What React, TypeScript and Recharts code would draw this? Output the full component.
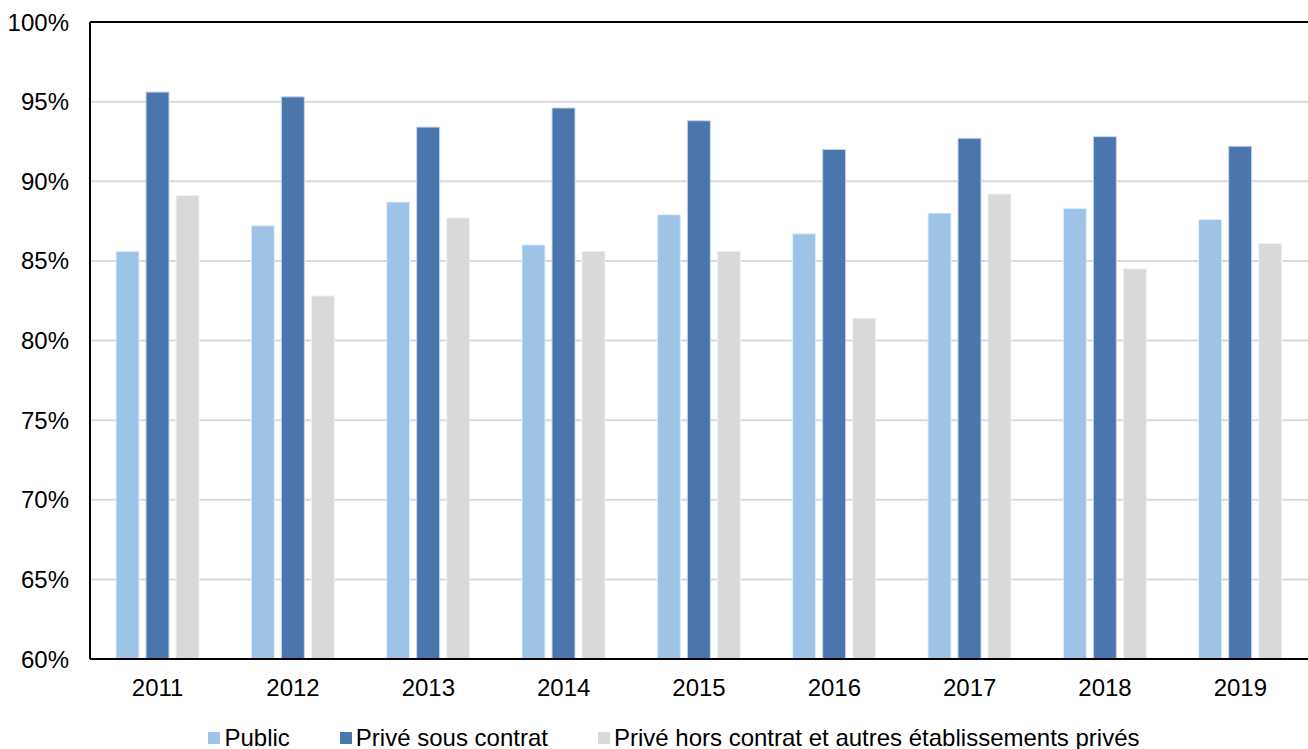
import React from 'react';
import { BarChart, Bar, XAxis, YAxis, CartesianGrid, ReferenceLine, Legend } from 'recharts';

const years = ['2011', '2012', '2013', '2014', '2015', '2016', '2017', '2018', '2019'];
const publicRate = [85.6, 87.2, 88.7, 86.0, 87.9, 86.7, 88.0, 88.3, 87.6];
const priveSousContrat = [95.6, 95.3, 93.4, 94.6, 93.8, 92.0, 92.7, 92.8, 92.2];
const priveHorsContrat = [89.1, 82.8, 87.7, 85.6, 85.6, 81.4, 89.2, 84.5, 86.1];
const yTicks = [60, 65, 70, 75, 80, 85, 90, 95, 100];

const data = years.map((year, i) => ({
  year,
  public: publicRate[i],
  sousContrat: priveSousContrat[i],
  horsContrat: priveHorsContrat[i],
}));

const font = 'Liberation Sans, Arial, sans-serif';

const renderLegend = () => {
  const items = [
    { label: 'Public', color: '#9dc3e6' },
    { label: 'Privé sous contrat', color: '#4a76ad' },
    { label: 'Privé hors contrat et autres établissements privés', color: '#d9d9d9' },
  ];
  return (
    <div style={{ display: 'flex', justifyContent: 'center', fontFamily: font, fontSize: 24, lineHeight: '26px', color: '#000', paddingLeft: 40 }}>
      {items.map((it, i) => (
        <div key={it.label} style={{ display: 'flex', alignItems: 'center', marginRight: i < 2 ? 50 : 0 }}>
          <span style={{ display: 'inline-block', width: 12, height: 12, background: it.color, marginRight: 4 }} />
          <span>{it.label}</span>
        </div>
      ))}
    </div>
  );
};

export default function App() {
  return (
    <div style={{ position: 'absolute', left: 0, top: 0, background: '#fff' }}>
      <BarChart
        width={1308}
        height={749}
        data={data}
        margin={{ top: 22, right: 0, bottom: 2, left: 0 }}
        barGap={7}
        barSize={23}
      >
        <CartesianGrid vertical={false} stroke="#d9d9d9" strokeWidth={2} />
        <XAxis
          dataKey="year"
          axisLine={{ stroke: '#000', strokeWidth: 2 }}
          tickLine={false}
          tick={{ fill: '#000', fontSize: 24, fontFamily: font }}
          tickMargin={14}
          height={62}
        />
        <YAxis
          domain={[60, 100]}
          ticks={yTicks}
          width={90}
          axisLine={{ stroke: '#000', strokeWidth: 2 }}
          tickLine={false}
          tickFormatter={(v: number) => `${v}%`}
          tick={{ fill: '#000', fontSize: 24, fontFamily: font }}
          tickMargin={15}
        />
        <ReferenceLine y={100} stroke="#000" strokeWidth={2} />
        <Legend verticalAlign="bottom" content={renderLegend} wrapperStyle={{ bottom: -2 }} />
        <Bar dataKey="public" name="Public" fill="#9dc3e6" stroke="#e3eef9" strokeWidth={1} isAnimationActive={false} />
        <Bar dataKey="sousContrat" name="Privé sous contrat" fill="#4a76ad" stroke="#c9d6ea" strokeWidth={1} isAnimationActive={false} />
        <Bar dataKey="horsContrat" name="Privé hors contrat et autres établissements privés" fill="#d9d9d9" stroke="#f2f2f2" strokeWidth={1} isAnimationActive={false} />
      </BarChart>
    </div>
  );
}
